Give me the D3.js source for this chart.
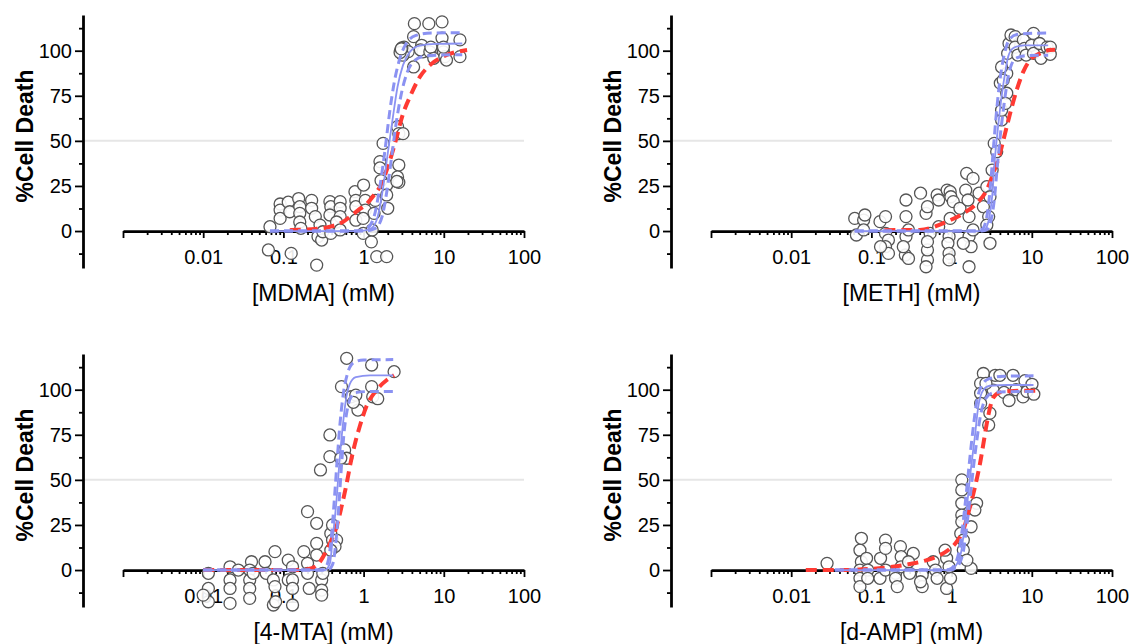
<!DOCTYPE html>
<html>
<head>
<meta charset="utf-8">
<title>%Cell Death - dose response</title>
<script src="https://d3js.org/d3.v7.min.js"></script>
<style>
  body { margin: 0; background: #fff; }
  text { font-family: "Liberation Sans", Arial, sans-serif; }
</style>
</head>
<body>
<div id="chart"></div>
<script>
// ---- data (concentration in mM, % cell death) ----
const drugNames = ["MDMA", "METH", "4-MTA", "d-AMP"];
const xTickValues = [0.01, 0.1, 1, 10, 100];
const yTickValues = [0, 25, 50, 75, 100];

const mdmaPoints = [[0.065,-10.5],[0.068,2.4],[0.091,15],[0.091,11.6],[0.091,7],[0.125,-12.4],[0.115,16],[0.12,10.7],
  [0.155,18],[0.16,13.5],[0.16,9.8],[0.16,5],[0.165,1.5],
  [0.225,17],[0.225,12.6],[0.25,8],[0.286,3.3],[0.27,-3],[0.3,-5],[0.26,-18.9],[0.31,-0.4],
  [0.38,16.3],[0.39,13.5],[0.38,8.9],[0.51,16.3],[0.51,12.6],[0.51,8],[0.46,5],[0.39,-1.3],[0.51,0.6],
  [0.78,21.8],[0.8,17],[0.8,6],[0.8,13.5],[1.0,25.5],[1.05,17],[1.05,11.6],[0.99,-1.3],[0.99,7],[1.25,-6],[1.28,0.6],
  [1.35,9.8],[1.4,17],[1.6,38.5],[1.6,35],[1.65,28],[1.75,48.6],[1.94,25.5],[1.94,20],[2.0,12.6],[1.46,-14.2],[1.94,-14.2],
  [2.65,57.9],[2.75,54],[3.1,54],[2.75,36.6],[2.65,30],[2.75,27],[2.6,27.5],
  [2.9,100.4],[3.0,98.5],[3.2,102],[3.6,99.5],[4.2,91],[4.3,115],[4.2,107.8],[5.3,103],[5.5,99.4],[5.1,100.5],[3.0,101.5],[3.1,97.5],[2.85,99],[2.95,101],
  [6.5,115],[6.7,99.4],[6.9,102],[7.5,95.8],
  [9.5,116],[9.5,107],[9.9,99.4],[10.3,96.7],[10.8,94.8],[9.9,102],
  [15.9,106],[15.9,96.7]];
const mdmaRed = [[0.12,0.5],[0.25,1.2],[0.38,2.4],[0.55,5],[0.68,8],[0.85,11.5],[1.09,15],[1.35,20],[1.6,24.6],[2.01,35.7],[2.46,48.6],[3.1,65],[3.79,74.5],[5.05,85.6],[6.73,92],[9.77,96.7],[19.5,100.4]];
const mdmaBlueFit = [[0.068,0],[0.9,0],[1.25,1.5],[1.5,8],[1.75,24],[2.0,43],[2.3,62],[2.65,80],[3.1,92],[3.8,99.5],[5,102.8],[8,103.8],[17,104]];
const mdmaBlueUpper = [[0.068,0],[0.8,0],[1.1,1.5],[1.35,8],[1.6,25],[1.85,45],[2.1,65],[2.4,82],[2.8,95],[3.4,104],[4.5,108.5],[7,109.8],[17,110]];
const mdmaBlueLower = [[0.068,0],[1.0,0],[1.4,1.5],[1.7,8],[1.95,22],[2.25,42],[2.55,60],[2.95,76],[3.5,88],[4.3,94.5],[5.8,97],[9,97.6],[17,97.8]];

const methPoints = [[0.062,7],[0.065,-2.2],[0.08,6.1],[0.083,8.9],[0.08,0.6],
  [0.128,5.2],[0.15,8],[0.15,-1.3],[0.163,-5],[0.15,-8.7],[0.163,-12.4],[0.13,-8.7],
  [0.265,-13.3],[0.27,17.2],[0.27,8],[0.27,-3],[0.25,-8.7],[0.29,-15.2],[0.29,0.6],
  [0.41,21],[0.48,9.8],[0.5,13.5],[0.5,-16],[0.48,-19.8],[0.5,-10.5],[0.54,-1.3],[0.5,-5.9],[0.66,20],[0.69,17.2],[0.69,2.4],
  [0.88,22.7],[0.96,21.8],[0.98,19],[0.93,-3],[0.9,-6.8],[0.93,-12.4],[0.93,-16],[0.96,7],[1.05,16.3],
  [1.54,32],[1.85,29.2],[1.5,22.7],[1.27,12.6],[1.6,17.2],[1.65,8],[1.65,-3],[1.75,-8.7],[1.65,-19.8],[1.4,-6.8],[1.85,0.6],
  [2.2,21],[2.49,13.5],[2.75,24.6],[3.01,19],[2.9,8],[2.75,3.3],[3.01,-6.8],
  [3.2,33.8],[3.4,48.6],[3.65,44],[4.2,61.6],[4.2,67],[4.05,82],[4.87,76.4],[4.7,70.8],[4.87,87.4],[4.4,83.7],[4.2,91],
  [5.2,104],[5.5,108.7],[5.0,98.5],[6.2,107.8],[6.2,102],[6.7,97.6],[7.85,106],[8.1,101.3],[8.5,97.6],[9.9,103],[10.5,109.6],[10.5,98.5],[12.5,104],[13,95.8],[15.5,102],[17,102],[17,98]];
const methRed = [[0.145,0.5],[0.4,0.6],[0.87,5.2],[1.4,9.8],[2.05,15.3],[2.74,22.7],[3.31,32],[4.01,43],[4.63,54],[5.35,65],[6.48,78.2],[7.84,88.4],[9.5,94.8],[12.7,98.5],[16.9,100.4],[19.5,100.5]];
const methBlueFit = [[0.062,0],[2.2,0],[2.6,1],[2.9,6],[3.2,19],[3.45,39],[3.8,58],[4.2,74.5],[4.7,89],[5.1,97],[5.9,101.5],[8,103],[16,103]];
const methBlueUpper = [[0.062,0],[2.0,0],[2.4,1],[2.75,8],[3.05,25],[3.35,48],[3.7,70],[4.1,87],[4.6,99],[5.2,106],[6.5,109],[9,109.6],[16,109.8]];
const methBlueLower = [[0.062,0],[2.4,0],[2.8,1],[3.1,6],[3.4,17],[3.7,35],[4.05,53],[4.5,70],[5.0,84],[5.6,92.5],[6.5,96],[9,97.3],[16,97.5]];

const mtaPoints = [[0.0116,-1.8],[0.0116,-10.2],[0.0116,-17.6],[0.01,-13.9],
  [0.0216,1.8],[0.0216,-5.5],[0.0216,-10.2],[0.0216,-18.5],[0.0274,0],
  [0.04,4.6],[0.038,0],[0.038,-5.5],[0.038,-10.2],[0.038,-15.7],[0.042,-1.8],
  [0.059,4.6],[0.061,-1.8],[0.0785,10.2],[0.075,-5.5],[0.0785,-9.2],[0.075,-19.4],[0.08,-17.6],
  [0.115,5.5],[0.115,-5.5],[0.13,1.8],[0.13,-5.5],[0.13,-10.2],[0.13,-19.4],
  [0.18,10.2],[0.2,3.7],[0.2,-1.8],[0.21,-10.2],[0.2,32.4],[0.26,25.9],[0.26,14.8],[0.26,8.3],
  [0.29,55.5],[0.3,-5.5],[0.3,-11.1],[0.3,-13.9],[0.31,-1.8],
  [0.38,74.9],[0.38,62.9],[0.39,20.3],[0.41,25],[0.41,16.6],[0.46,16.6],[0.44,13],[0.39,11],
  [0.53,101.7],[0.58,66.6],[0.615,62],[0.52,62],[0.615,117.4],[0.7,96.1],[0.8,97],[0.85,88.7],[0.745,93],
  [1.26,101.7],[1.26,113.7],[1.3,96.1],[1.5,95],[2.4,110]];
const mtaRed = [[0.01,0],[0.15,0],[0.2,0.5],[0.26,2.5],[0.31,7],[0.38,14.8],[0.46,24],[0.53,35],[0.615,48],[0.7,61],[0.8,72],[0.9,80],[1.08,90.5],[1.45,99.8],[1.95,105.4],[2.4,108]];
const mtaBlueFit = [[0.01,0],[0.33,0],[0.38,3.7],[0.41,16.6],[0.46,39],[0.5,60],[0.55,80],[0.6,94],[0.67,103],[0.8,107],[1.2,108],[2.34,108]];
const mtaBlueUpper = [[0.01,0],[0.3,0],[0.35,3],[0.39,15],[0.43,38],[0.47,62],[0.51,82],[0.56,98],[0.63,109],[0.75,115],[1.0,116.5],[2.34,116.7]];
const mtaBlueLower = [[0.01,0],[0.36,0],[0.41,3],[0.45,15],[0.49,35],[0.53,58],[0.57,76],[0.62,88],[0.68,95],[0.8,98.5],[1.2,99],[2.34,99]];

const dampPoints = [[0.028,3.7],
  [0.072,11],[0.075,4.6],[0.072,0],[0.072,-4.6],[0.072,-9.2],[0.075,17.6],[0.087,6.5],[0.09,0],[0.09,-4.6],
  [0.128,-4.6],[0.13,6.5],[0.15,16.6],[0.15,12],[0.15,0],[0.2,-1.8],[0.2,-4.6],[0.21,-9.2],[0.23,13],[0.235,7.4],[0.235,1.8],[0.3,-1.8],[0.333,9.2],[0.29,4.6],
  [0.43,-2.8],[0.43,-9.2],[0.41,-6.5],[0.59,4.6],[0.63,0],[0.66,-4.6],[0.867,-10.2],[0.867,6.5],[0.97,-4.6],[0.93,1.8],[0.83,11],
  [1.34,50],[1.34,44.4],[1.34,37],[1.34,30.5],[1.34,26.8],[1.3,20.3],[1.4,16.6],[1.4,11.1],[1.75,24],[2.05,37],[1.95,33.3],[1.75,0.9],[1.55,5.5],
  [2.49,109],[2.3,103.5],[2.3,98],[2.3,92.4],[2.9,80.4],[3.0,87],[3.5,108],[3.3,99.8],[2.68,103.5],
  [4.5,98.5],[5.2,94],[4.0,108],[5.83,108],[6.36,100],[7.77,96],[8.22,105],[8.71,99],[10.05,103],[10.6,97.5]];
const dampRed = [[0.0152,0],[0.0405,0],[0.116,0.9],[0.3,3.3],[0.49,5.5],[0.72,8.3],[0.91,11.1],[1.16,15.7],[1.4,22.2],[1.61,31.4],[1.87,42.5],[2.05,50],[2.26,59],[2.49,70],[2.74,81],[3.01,90],[3.31,95.6],[4,98.5],[6,99.3],[12.3,99.5]];
const dampBlueFit = [[0.035,0],[0.9,0],[1.05,1],[1.3,9],[1.45,24],[1.6,40.7],[1.75,57],[1.95,74],[2.15,90.6],[2.5,100],[3.0,102.2],[5,102.6],[10.5,102.6]];
const dampBlueUpper = [[0.035,0],[0.85,0],[1.0,1],[1.22,9],[1.38,25],[1.52,42],[1.67,60],[1.85,78],[2.05,93],[2.35,102],[2.9,106],[4.5,107.5],[10.5,107.7]];
const dampBlueLower = [[0.035,0],[0.95,0],[1.12,1],[1.38,9],[1.53,23],[1.7,40],[1.85,55],[2.05,71],[2.3,86],[2.65,95],[3.3,98.3],[5,98.9],[10.5,99]];

// ---- layout ----
const panels = [
  {name: drugNames[0], points: mdmaPoints, red: mdmaRed, fit: mdmaBlueFit, upper: mdmaBlueUpper, lower: mdmaBlueLower, ox: 0,   oy: 0},
  {name: drugNames[1], points: methPoints, red: methRed, fit: methBlueFit, upper: methBlueUpper, lower: methBlueLower, ox: 588, oy: 0},
  {name: drugNames[2], points: mtaPoints,  red: mtaRed,  fit: mtaBlueFit,  upper: mtaBlueUpper,  lower: mtaBlueLower,  ox: 0,   oy: 339},
  {name: drugNames[3], points: dampPoints, red: dampRed, fit: dampBlueFit, upper: dampBlueUpper, lower: dampBlueLower, ox: 588, oy: 339}
];

const blue = "#8b92f2";
const red = "#ff3a33";

let svg = d3.select("#chart")
  .append("svg")
    .attr("width", 1133)
    .attr("height", 644);

let xScale = d3.scaleLog().domain([0.001, 100]).range([123, 524]);
let yScale = d3.scaleLinear().domain([-20.5, 119.8]).range([268, 15]);

let xMajor = [0.001].concat(xTickValues);
let xMinor = [];
for (let e = -3; e < 2; e++) {
  for (let m = 2; m < 10; m++) xMinor.push(m * Math.pow(10, e));
}
let yMinor = [-12.5, 12.5, 37.5, 62.5, 87.5, 112.5];

let line = d3.line()
  .x(function(d) { return xScale(d[0]); })
  .y(function(d) { return yScale(d[1]); })
  .curve(d3.curveMonotoneX);

panels.forEach(function(p) {
  let g = svg.append("g").attr("transform", "translate(" + p.ox + "," + p.oy + ")");

  // light reference line at 50 %
  g.append("line")
    .attr("x1", 83).attr("x2", xScale.range()[1])
    .attr("y1", yScale(50)).attr("y2", yScale(50))
    .attr("stroke", "#e6e6e6")
    .attr("stroke-width", 2);

  // y axis (major + minor ticks)
  let yAxis = g.append("g")
    .attr("transform", "translate(83,0)")
    .call(d3.axisLeft(yScale).tickValues(yTickValues).tickSize(8).tickSizeOuter(0).tickPadding(3));
  g.append("g")
    .attr("transform", "translate(83,0)")
    .call(d3.axisLeft(yScale).tickValues(yMinor).tickSize(4).tickFormat(""))
    .select(".domain").remove();

  // x axis drawn along y = 0
  let xAxis = g.append("g")
    .attr("transform", "translate(0," + yScale(0) + ")")
    .call(d3.axisBottom(xScale).tickValues(xMajor).tickSize(7).tickSizeOuter(0).tickPadding(12)
      .tickFormat(function(d) { return xTickValues.indexOf(d) >= 0 ? String(d) : ""; }));
  g.append("g")
    .attr("transform", "translate(0," + yScale(0) + ")")
    .call(d3.axisBottom(xScale).tickValues(xMinor).tickSize(4).tickFormat(""))
    .select(".domain").remove();

  g.selectAll(".domain").attr("stroke", "#000").attr("stroke-width", 2.8);
  g.selectAll(".tick line").attr("stroke", "#000").attr("stroke-width", 1.8);
  g.selectAll(".tick text").attr("font-size", "20px").attr("fill", "#000")
    .attr("font-family", "'Liberation Sans', Arial, sans-serif");

  // data
  g.selectAll("circle")
    .data(p.points)
    .enter()
    .append("circle")
      .attr("cx", function(d) { return xScale(d[0]); })
      .attr("cy", function(d) { return yScale(d[1]); })
      .attr("r", 6)
      .attr("fill", "#fff")
      .attr("fill-opacity", 0.9)
      .attr("stroke", "#555")
      .attr("stroke-width", 1.3);

  // fitted curves
  g.append("path").datum(p.red).attr("d", line)
    .attr("fill", "none").attr("stroke", red).attr("stroke-width", 4).attr("stroke-dasharray", "11,6");
  g.append("path").datum(p.upper).attr("d", line)
    .attr("fill", "none").attr("stroke", blue).attr("stroke-width", 3).attr("stroke-dasharray", "9,5");
  g.append("path").datum(p.lower).attr("d", line)
    .attr("fill", "none").attr("stroke", blue).attr("stroke-width", 3).attr("stroke-dasharray", "9,5");
  g.append("path").datum(p.fit).attr("d", line)
    .attr("fill", "none").attr("stroke", blue).attr("stroke-width", 1.8);

  // titles
  g.append("text")
    .attr("transform", "translate(33,136) rotate(-90)")
    .style("text-anchor", "middle")
    .attr("font-size", "23px")
    .attr("font-weight", "bold")
    .text("%Cell Death");

  g.append("text")
    .attr("x", (xScale.range()[0] + xScale.range()[1]) / 2)
    .attr("y", 301)
    .style("text-anchor", "middle")
    .attr("font-size", "23px")
    .text("[" + p.name + "] (mM)");
});
</script>
</body>
</html>
